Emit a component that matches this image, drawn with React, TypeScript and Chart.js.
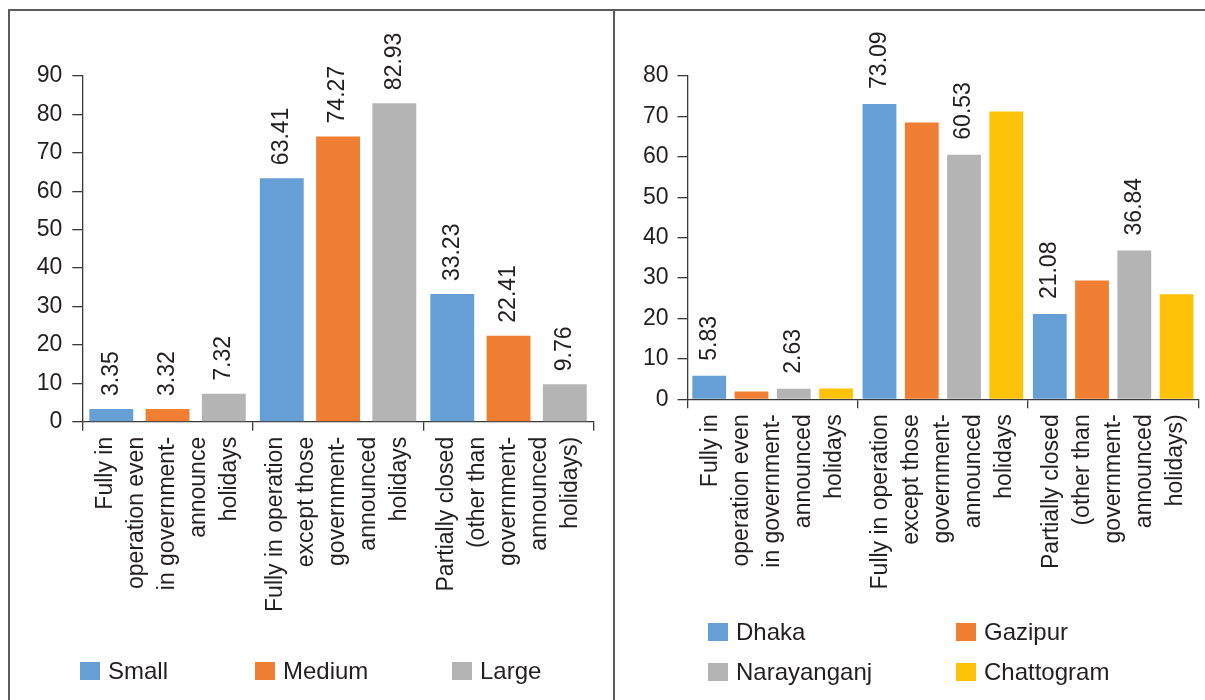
import React, { useEffect, useRef } from "react";
import { Chart, registerables } from "chart.js";

Chart.register(...registerables);

// ---- data: operating status by firm size ----
const sizeCategories: string[][] = [
  ["Fully in", "operation even", "in government-", "announce", "holidays"],
  ["Fully in operation", "except those", "government-", "announced", "holidays"],
  ["Partially closed", "(other than", "government-", "announced", "holidays)"],
];
const sizeSeries = ["Small", "Medium", "Large"];
const smallValues = [3.35, 63.41, 33.23];
const mediumValues = [3.32, 74.27, 22.41];
const largeValues = [7.32, 82.93, 9.76];
const sizeAxisMax = 90;

// ---- data: operating status by district ----
const districtCategories: string[][] = [
  ["Fully in", "operation even", "in government-", "announced", "holidays"],
  ["Fully in operation", "except those", "government-", "announced", "holidays"],
  ["Partially closed", "(other than", "government-", "announced", "holidays)"],
];
const districtSeries = ["Dhaka", "Gazipur", "Narayanganj", "Chattogram"];
const dhakaValues = [5.83, 73.09, 21.08];
const gazipurValues = [1.9, 68.5, 29.4];
const narayanganjValues = [2.63, 60.53, 36.84];
const chattogramValues = [2.7, 71.2, 26.0];
const labelledDistricts = ["Dhaka", "Narayanganj"];
const districtAxisMax = 80;

// ---- styling ----
const FONT = '"Liberation Sans", Arial, Helvetica, sans-serif';
const TEXT = "#231f20";
const AXIS = "#3a3a3a";
const FRAME = "#5c5c5c";
const SERIES_COLORS: Record<string, string> = {
  Small: "#659fd5",
  Medium: "#f07f33",
  Large: "#b4b4b4",
  Dhaka: "#659fd5",
  Gazipur: "#f07f33",
  Narayanganj: "#b4b4b4",
  Chattogram: "#fec308",
};

const LINE_HEIGHT = 31;
const X_AXIS_HEIGHT = 200;

// Rotated value labels above selected bar series
const valueLabels = {
  id: "valueLabels",
  afterDatasetsDraw(chart: any, _args: any, opts: any) {
    const { ctx } = chart;
    const show: number[] = opts.datasets || [];
    const gap: number = opts.gap ?? 13;
    chart.data.datasets.forEach((ds: any, i: number) => {
      if (!show.includes(i)) return;
      const meta = chart.getDatasetMeta(i);
      meta.data.forEach((bar: any, j: number) => {
        const v = ds.data[j] as number;
        ctx.save();
        ctx.translate(bar.x, bar.y - gap);
        ctx.rotate(-Math.PI / 2);
        ctx.font = `23px ${FONT}`;
        ctx.fillStyle = TEXT;
        ctx.textAlign = "left";
        ctx.textBaseline = "middle";
        ctx.fillText(v.toFixed(2), 0, 0);
        ctx.restore();
      });
    });
  },
};

type Area = { left: number; right: number; top: number; bottom: number };

function makeConfig(
  categories: string[][],
  series: string[],
  values: number[][],
  labelled: string[],
  axisMax: number,
  area: Area,
  canvasW: number,
  canvasH: number,
  barPct: number,
  catPct: number,
  yPad: number,
  labelGap: number
): any {
  return {
    type: "bar",
    data: {
      labels: categories,
      datasets: series.map((name, i) => ({
        label: name,
        data: values[i],
        backgroundColor: SERIES_COLORS[name],
        borderWidth: 0,
        barPercentage: barPct,
        categoryPercentage: catPct,
      })),
    },
    options: {
      responsive: false,
      animation: false,
      devicePixelRatio: 1,
      events: [],
      layout: {
        padding: {
          top: area.top,
          left: 0,
          right: canvasW - area.right,
          bottom: canvasH - area.bottom - X_AXIS_HEIGHT,
        },
      },
      plugins: {
        legend: { display: false },
        tooltip: { enabled: false },
        valueLabels: {
          datasets: series
            .map((n, i) => (labelled.includes(n) ? i : -1))
            .filter((i) => i >= 0),
          gap: labelGap,
        },
      },
      scales: {
        x: {
          grid: {
            drawOnChartArea: false,
            drawTicks: true,
            tickLength: 9,
            offset: true,
            color: AXIS,
            lineWidth: 1.3,
          },
          border: { display: true, color: AXIS, width: 1.3 },
          ticks: {
            autoSkip: false,
            minRotation: 90,
            maxRotation: 90,
            padding: 6,
            labelOffset: -2 * LINE_HEIGHT,
            color: TEXT,
            font: { family: FONT, size: 23, lineHeight: `${LINE_HEIGHT}px` },
          },
          afterFit(s: any) {
            s.height = X_AXIS_HEIGHT;
            s.paddingLeft = 0;
            s.paddingRight = 0;
          },
        },
        y: {
          min: 0,
          max: axisMax,
          grid: {
            drawOnChartArea: false,
            drawTicks: true,
            tickLength: 10,
            color: AXIS,
            lineWidth: 1.3,
          },
          border: { display: true, color: AXIS, width: 1.3 },
          ticks: {
            stepSize: 10,
            padding: yPad,
            color: TEXT,
            font: { family: FONT, size: 23 },
          },
          afterFit(s: any) {
            s.width = area.left;
            s.paddingTop = 0;
            s.paddingBottom = 0;
          },
        },
      },
    },
    plugins: [valueLabels],
  };
}

type LegendItem = { name: string; x: number; y: number };

function BarPanel(props: {
  left: number;
  width: number;
  config: any;
  legend: LegendItem[];
}) {
  const ref = useRef<HTMLCanvasElement>(null);
  useEffect(() => {
    const chart = new Chart(ref.current as HTMLCanvasElement, props.config);
    return () => chart.destroy();
  }, []);
  return (
    <>
      <canvas
        ref={ref}
        width={props.width}
        height={700}
        style={{
          position: "absolute",
          left: props.left,
          top: 0,
          width: props.width,
          height: 700,
        }}
      />
      {props.legend.map((item) => (
        <div
          key={item.name}
          style={{
            position: "absolute",
            left: item.x,
            top: item.y,
            height: 18,
            display: "flex",
            alignItems: "center",
            whiteSpace: "nowrap",
          }}
        >
          <span
            style={{
              display: "inline-block",
              width: 20,
              height: 18,
              background: SERIES_COLORS[item.name],
            }}
          />
          <span
            style={{
              marginLeft: 8,
              fontFamily: FONT,
              fontSize: 24,
              lineHeight: 1,
              color: TEXT,
            }}
          >
            {item.name}
          </span>
        </div>
      ))}
    </>
  );
}

export default function App() {
  const sizeConfig = makeConfig(
    sizeCategories,
    sizeSeries,
    [smallValues, mediumValues, largeValues],
    sizeSeries,
    sizeAxisMax,
    { left: 82.3, right: 593.8, top: 76, bottom: 421.8 },
    614,
    700,
    0.78,
    0.99,
    10,
    13
  );
  const districtConfig = makeConfig(
    districtCategories,
    districtSeries,
    [dhakaValues, gazipurValues, narayanganjValues, chattogramValues],
    labelledDistricts,
    districtAxisMax,
    { left: 73.5, right: 584.3, top: 76, bottom: 399.3 },
    591,
    700,
    0.8,
    0.993,
    9,
    15
  );

  const sizeLegend: LegendItem[] = [
    { name: sizeSeries[0], x: 80, y: 662 },
    { name: sizeSeries[1], x: 255, y: 662 },
    { name: sizeSeries[2], x: 452, y: 662 },
  ];
  const districtLegend: LegendItem[] = [
    { name: districtSeries[0], x: 708, y: 623 },
    { name: districtSeries[1], x: 956, y: 623 },
    { name: districtSeries[2], x: 708, y: 663 },
    { name: districtSeries[3], x: 956, y: 663 },
  ];

  return (
    <div
      style={{
        position: "fixed",
        left: 0,
        top: 0,
        width: 1205,
        height: 700,
        overflow: "hidden",
        background: "#ffffff",
      }}
    >
      <BarPanel left={0} width={614} config={sizeConfig} legend={sizeLegend} />
      <BarPanel
        left={614}
        width={591}
        config={districtConfig}
        legend={districtLegend}
      />
      {/* panel frame */}
      <div style={{ position: "absolute", left: 8, top: 9, width: 1197, height: 2, background: FRAME }} />
      <div style={{ position: "absolute", left: 8, top: 9, width: 2, height: 691, background: FRAME }} />
      <div style={{ position: "absolute", left: 613, top: 9, width: 2, height: 691, background: FRAME }} />
    </div>
  );
}
